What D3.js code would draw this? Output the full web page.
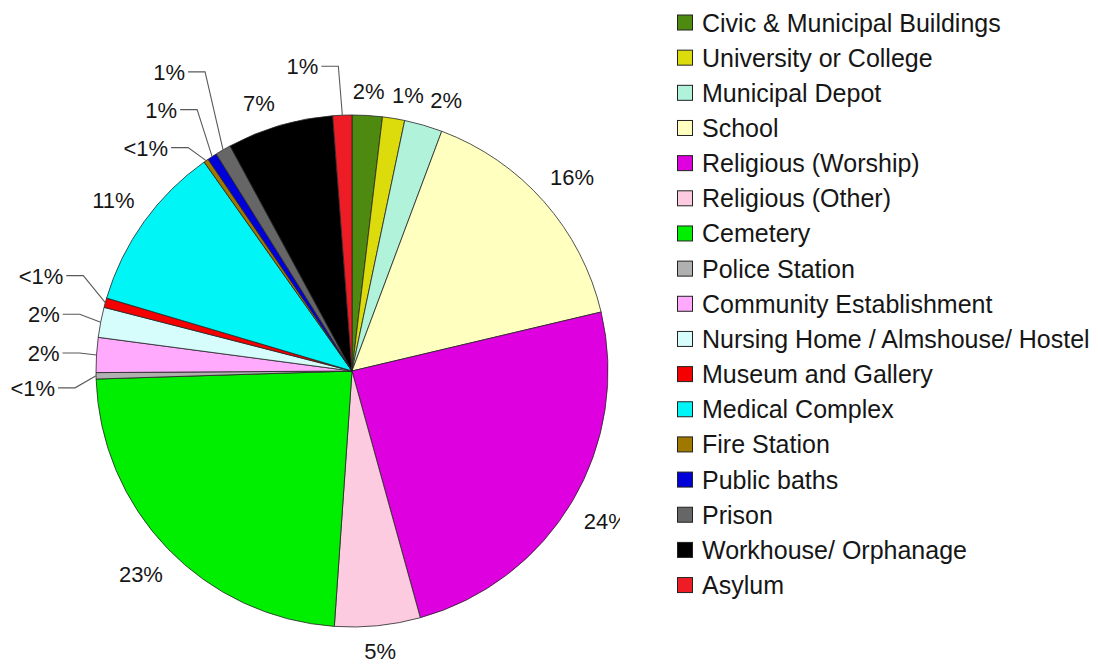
<!DOCTYPE html>
<html>
<head>
<meta charset="utf-8">
<script src="https://cdn.jsdelivr.net/npm/d3@7"></script>
<style>
  html, body { margin: 0; padding: 0; background: #ffffff; }
  svg { display: block; }
  text { font-family: "Liberation Sans", Arial, sans-serif; fill: #161616; }
</style>
</head>
<body>
<svg id="chart" width="1098" height="664"></svg>
<script>
// Building types, in clockwise order from 12 o'clock
const categories = [
  "Civic & Municipal Buildings",
  "University or College",
  "Municipal Depot",
  "School",
  "Religious (Worship)",
  "Religious (Other)",
  "Cemetery",
  "Police Station",
  "Community Establishment",
  "Nursing Home / Almshouse/ Hostel",
  "Museum and Gallery",
  "Medical Complex",
  "Fire Station",
  "Public baths",
  "Prison",
  "Workhouse/ Orphanage",
  "Asylum"
];

// Share of buildings per type (percent)
const shares = [1.9, 1.4, 2.4, 15.6, 24.4, 5.4, 23.4, 0.4, 2.2, 1.9, 0.6, 10.6, 0.3, 0.6, 1.0, 6.7, 1.2];

// Percentage labels as printed on the slices
const valueLabels = ["2%", "1%", "2%", "16%", "24%", "5%", "23%", "<1%", "2%", "2%", "<1%", "11%", "<1%", "1%", "1%", "7%", "1%"];

const colors = [
  "#4e8a10", "#dcdc0c", "#b0f2da", "#ffffc0", "#de00de", "#fccbe0",
  "#00ee00", "#b0b0b0", "#ffaafc", "#d6fcfc", "#f40000", "#00f6f6",
  "#a07800", "#0000d8", "#666666", "#000000", "#ee1c24"
];

// Labels that are pulled away from thin slices with a leader line:
// elbow offset from the slice's rim point
const leaderElbows = {
  "Police Station": [-21, 12],
  "Community Establishment": [-17, -2],
  "Nursing Home / Almshouse/ Hostel": [-21, -8],
  "Museum and Gallery": [-22, -27],
  "Fire Station": [-18, -13],
  "Public baths": [-15, -47],
  "Prison": [-18, -78],
  "Asylum": [-4, -49]
};
// Small nudges for outside labels that would otherwise crowd each other
const labelNudges = {
  "University or College": [10, 2],
  "Municipal Depot": [15, 1],
  "Workhouse/ Orphanage": [-13, 4]
};

const W = 1098, H = 664;
const cx = 352, cy = 371, radius = 256;

const svg = d3.select("#chart");

const data = categories.map((c, i) => ({ name: c, value: shares[i], label: valueLabels[i], color: colors[i] }));

const pie = d3.pie().sort(null).value(d => d.value).startAngle(0).endAngle(2 * Math.PI);
const arcs = pie(data);
const arc = d3.arc().innerRadius(0).outerRadius(radius);

svg.append("defs").append("clipPath").attr("id", "plotClip")
  .append("rect").attr("x", 0).attr("y", 0).attr("width", 620).attr("height", H);

const g = svg.append("g").attr("clip-path", "url(#plotClip)")
  .append("g").attr("transform", `translate(${cx},${cy})`);

g.selectAll("path.slice")
  .data(arcs)
  .join("path")
  .attr("class", "slice")
  .attr("d", arc)
  .attr("fill", d => d.data.color)
  .attr("stroke", "#262626")
  .attr("stroke-width", 0.8)
  .attr("stroke-linejoin", "round");

const rimPoint = (a, r) => [r * Math.sin(a), -r * Math.cos(a)];
const midAngle = d => (d.startAngle + d.endAngle) / 2;

const labelSize = 22;
const labels = g.append("g").attr("class", "labels");

arcs.forEach(d => {
  const name = d.data.name;
  const a = midAngle(d);
  if (leaderElbows[name]) {
    const rim = rimPoint(a, radius);
    const off = leaderElbows[name];
    const elbow = [rim[0] + off[0], rim[1] + off[1]];
    const start = [elbow[0] - 17, elbow[1]];
    labels.append("path")
      .attr("d", d3.line()([start, elbow, rim]))
      .attr("fill", "none")
      .attr("stroke", "#5a5a5a")
      .attr("stroke-width", 1.1);
    labels.append("text")
      .attr("x", start[0] - 3)
      .attr("y", elbow[1])
      .attr("dy", "0.36em")
      .attr("text-anchor", "end")
      .style("font-size", labelSize + "px")
      .text(d.data.label);
  } else {
    const t = labels.append("text")
      .attr("text-anchor", "middle")
      .attr("dy", "0.36em")
      .style("font-size", labelSize + "px")
      .text(d.data.label);
    const w = t.node().getComputedTextLength();
    const h = 15;
    const rr = radius + 16 + Math.abs(Math.sin(a)) * w / 2 + Math.abs(Math.cos(a)) * h / 2;
    const p = rimPoint(a, rr);
    const n = labelNudges[name] || [0, 0];
    t.attr("x", p[0] + n[0]).attr("y", p[1] + n[1]);
  }
});

// Legend
const legend = svg.append("g").attr("class", "legend");
const legendX = 677, legendY0 = 22.5, legendStep = 35.16;
const rows = legend.selectAll("g.row")
  .data(data)
  .join("g")
  .attr("class", "row")
  .attr("transform", (d, i) => `translate(${legendX},${legendY0 + i * legendStep})`);

rows.append("rect")
  .attr("x", 0.5).attr("y", -7.5)
  .attr("width", 15).attr("height", 15)
  .attr("fill", d => d.color)
  .attr("stroke", "#222")
  .attr("stroke-width", 1);

rows.append("text")
  .attr("x", 25)
  .attr("y", 0)
  .attr("dy", "0.36em")
  .style("font-size", "25px")
  .text(d => d.name);
</script>
</body>
</html>
